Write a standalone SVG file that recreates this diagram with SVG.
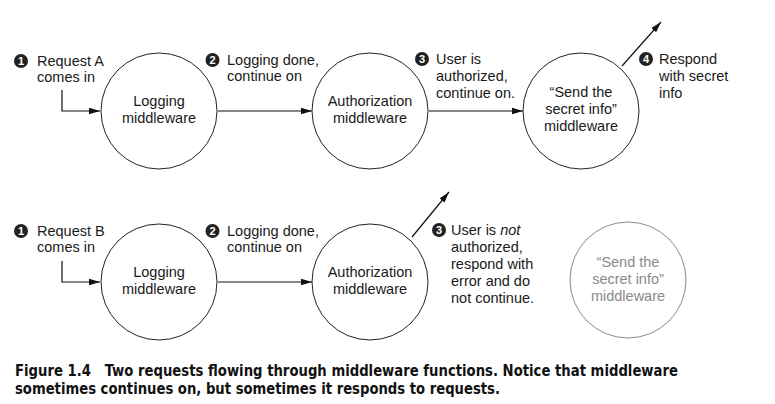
<svg xmlns="http://www.w3.org/2000/svg" width="775" height="404" viewBox="0 0 775 404">
<style>
.t{font-family:"Liberation Sans",Arial,sans-serif;font-size:14.5px;fill:#1a1a1a}
.c{text-anchor:middle}
.node{fill:#fff;stroke:#222;stroke-width:1}
.gray{fill:#fff;stroke:#8a8a8a;stroke-width:1}
.gt{fill:#8a8a8a}
.b{fill:#222}
.bn{font-family:"Liberation Sans",Arial,sans-serif;font-size:11px;font-weight:bold;fill:#fff;text-anchor:middle}
.e{fill:none;stroke:#111;stroke-width:1.2}
.cap{font-family:"DejaVu Sans Condensed","Roboto Condensed","Liberation Sans",sans-serif;font-weight:bold;font-size:15px;fill:#111}
</style>
<defs>
<marker id="ah" markerWidth="12" markerHeight="8" refX="11" refY="4" orient="auto" markerUnits="userSpaceOnUse">
<path d="M0,0.8 L11,4 L0,7.2 Z" fill="#111"/>
</marker>
</defs>
<rect width="775" height="404" fill="#fff"/>
<g id="connectors">
<path class="e" d="M62,90 V111 H100" marker-end="url(#ah)"/>
<path class="e" d="M218,111 H312" marker-end="url(#ah)"/>
<path class="e" d="M429,111 H523" marker-end="url(#ah)"/>
<path class="e" d="M622,66 L661,22" marker-end="url(#ah)"/>
<path class="e" d="M62,261 V282 H100" marker-end="url(#ah)"/>
<path class="e" d="M218,282 H312" marker-end="url(#ah)"/>
<path class="e" d="M412,237 L449,192" marker-end="url(#ah)"/>
</g>
<g id="logA">
<circle class="node" cx="159" cy="111" r="58"/>
<text class="t c" x="159" y="106">Logging</text>
<text class="t c" x="159" y="123">middleware</text>
</g>
<g id="authA">
<circle class="node" cx="370" cy="111" r="58"/>
<text class="t c" x="370" y="106">Authorization</text>
<text class="t c" x="370" y="123">middleware</text>
</g>
<g id="sendA">
<circle class="node" cx="581" cy="111" r="58"/>
<text class="t c" x="581" y="97">“Send the</text>
<text class="t c" x="581" y="114">secret info”</text>
<text class="t c" x="581" y="131">middleware</text>
</g>
<g id="logB">
<circle class="node" cx="159" cy="282" r="58"/>
<text class="t c" x="159" y="277">Logging</text>
<text class="t c" x="159" y="294">middleware</text>
</g>
<g id="authB">
<circle class="node" cx="370" cy="282" r="58"/>
<text class="t c" x="370" y="277">Authorization</text>
<text class="t c" x="370" y="294">middleware</text>
</g>
<g id="sendB">
<circle class="gray" cx="628" cy="280" r="58"/>
<text class="t c gt" x="628" y="267">“Send the</text>
<text class="t c gt" x="628" y="284">secret info”</text>
<text class="t c gt" x="628" y="301">middleware</text>
</g>
<g id="labelA1">
<circle class="b" cx="21" cy="61" r="7"/><text class="bn" x="21" y="65">1</text>
<text class="t" x="37" y="66">Request A</text>
<text class="t" x="37" y="82">comes in</text>
</g>
<g id="labelA2">
<circle class="b" cx="212.5" cy="60" r="7"/><text class="bn" x="212.5" y="64">2</text>
<text class="t" x="227" y="65">Logging done,</text>
<text class="t" x="227" y="81">continue on</text>
</g>
<g id="labelA3">
<circle class="b" cx="422" cy="59" r="7"/><text class="bn" x="422" y="63">3</text>
<text class="t" x="436" y="64">User is</text>
<text class="t" x="436" y="81">authorized,</text>
<text class="t" x="436" y="98">continue on.</text>
</g>
<g id="labelA4">
<circle class="b" cx="646" cy="59" r="7"/><text class="bn" x="646" y="63">4</text>
<text class="t" x="659" y="64">Respond</text>
<text class="t" x="659" y="81">with secret</text>
<text class="t" x="659" y="98">info</text>
</g>
<g id="labelB1">
<circle class="b" cx="21" cy="231" r="7"/><text class="bn" x="21" y="235">1</text>
<text class="t" x="37" y="236">Request B</text>
<text class="t" x="37" y="252">comes in</text>
</g>
<g id="labelB2">
<circle class="b" cx="212.5" cy="231" r="7"/><text class="bn" x="212.5" y="235">2</text>
<text class="t" x="227" y="236">Logging done,</text>
<text class="t" x="227" y="252">continue on</text>
</g>
<g id="labelB3">
<circle class="b" cx="439" cy="230" r="7"/><text class="bn" x="439" y="234">3</text>
<text class="t" x="451" y="235">User is <tspan font-style="italic">not</tspan></text>
<text class="t" x="451" y="252">authorized,</text>
<text class="t" x="451" y="269">respond with</text>
<text class="t" x="451" y="286">error and do</text>
<text class="t" x="451" y="303">not continue.</text>
</g>
<g id="caption">
<text class="cap" x="15" y="376" textLength="663" lengthAdjust="spacingAndGlyphs">Figure 1.4<tspan dx="14">Two requests flowing through middleware functions. Notice that middleware</tspan></text>
<text class="cap" x="15" y="394" textLength="485" lengthAdjust="spacingAndGlyphs">sometimes continues on, but sometimes it responds to requests.</text>
</g>
</svg>
